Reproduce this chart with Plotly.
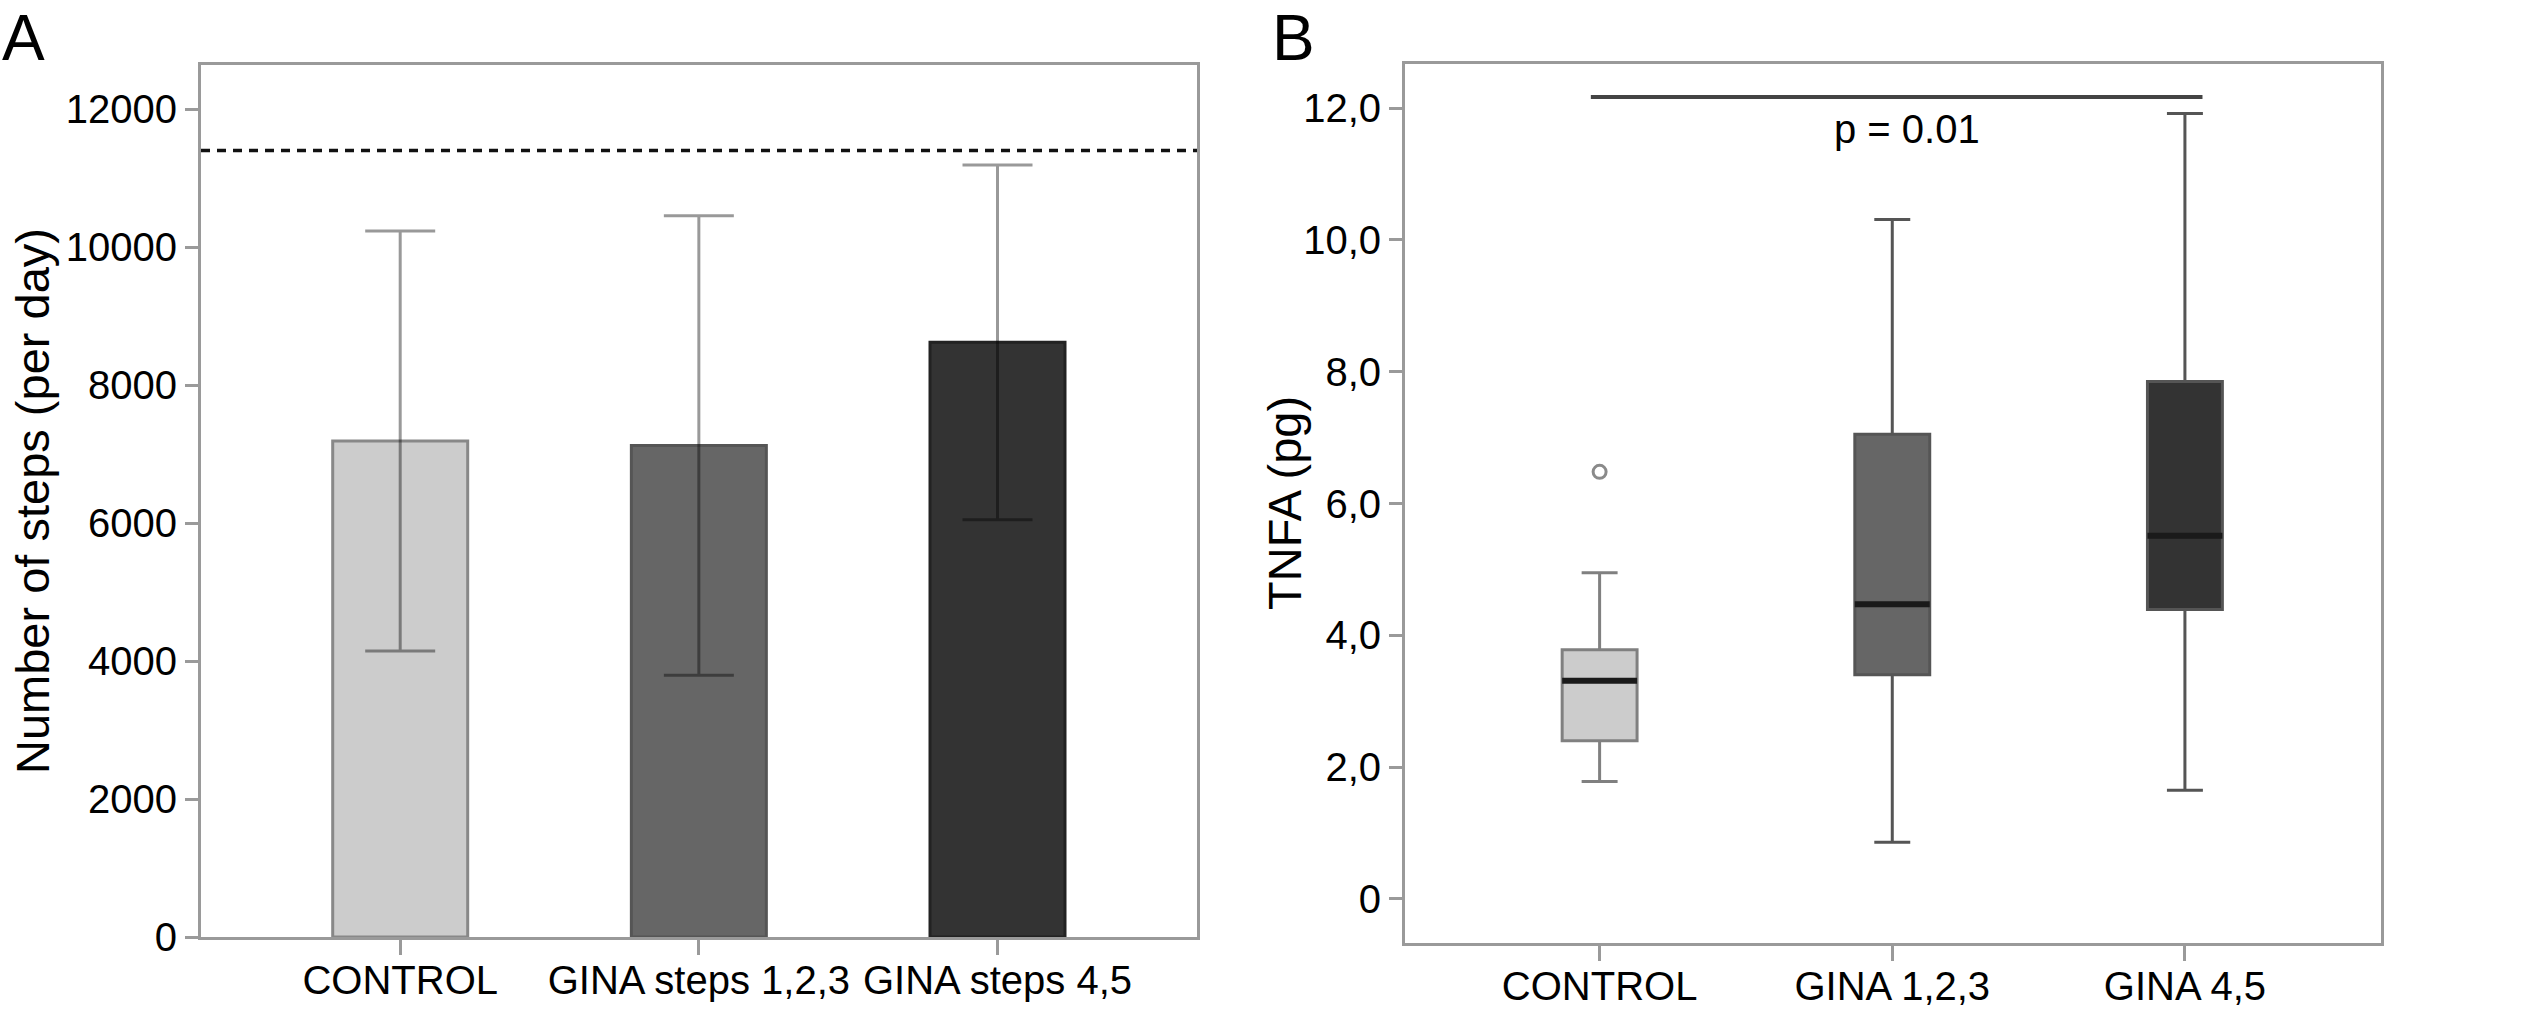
import plotly.graph_objects as go

# Panel A: number of steps per day (mean +/- SD)
steps_groups = ["CONTROL", "GINA steps 1,2,3", "GINA steps 4,5"]
steps_mean = [7190, 7125, 8620]
steps_sd = [3045, 3330, 2570]
steps_reference = 11400
steps_ticks = [0, 2000, 4000, 6000, 8000, 10000, 12000]

# Panel B: TNFA (pg) box plots
tnfa_groups = ["CONTROL", "GINA 1,2,3", "GINA 4,5"]
tnfa_low = [1.78, 0.86, 1.65]
tnfa_q1 = [2.40, 3.40, 4.39]
tnfa_median = [3.31, 4.47, 5.51]
tnfa_q3 = [3.78, 7.05, 7.85]
tnfa_high = [4.95, 10.31, 11.92]
tnfa_outlier_group = ["CONTROL"]
tnfa_outlier = [6.48]
tnfa_ticks = [0, 2, 4, 6, 8, 10, 12]
tnfa_ticktext = ["0", "2,0", "4,0", "6,0", "8,0", "10,0", "12,0"]
p_label = "p = 0.01"
p_line_y = 12.17
p_text_y = 11.68

# styling
W, H = 2536, 1010
FONT = "Liberation Sans, Arial, Helvetica, sans-serif"
FRAME = "#9a9a9a"
bar_fill = ["#cccccc", "#666666", "#333333"]
bar_edge = ["#888888", "#555555", "#222222"]
box_fill = ["#cccccc", "#666666", "#333333"]
box_edge = ["#808080", "#555555", "#555555"]
BOX_W = 0.256

fig = go.Figure()

fig.add_trace(go.Bar(
    x=steps_groups, y=steps_mean,
    width=0.452,
    marker=dict(color=bar_fill, line=dict(color=bar_edge, width=3)),
    error_y=dict(type="data", array=steps_sd, visible=True,
                 color="rgba(0,0,0,0.4)", thickness=3, width=35),
    xaxis="x", yaxis="y", showlegend=False,
))

for i, g in enumerate(tnfa_groups):
    fig.add_trace(go.Box(
        x=[g], q1=[tnfa_q1[i]], median=[tnfa_median[i]], q3=[tnfa_q3[i]],
        lowerfence=[tnfa_low[i]], upperfence=[tnfa_high[i]],
        fillcolor=box_fill[i], line=dict(color=box_edge[i], width=3),
        width=BOX_W, whiskerwidth=0.48, boxpoints=False,
        xaxis="x2", yaxis="y2", showlegend=False,
    ))
    # SPSS draws the median darker than the box outline
    fig.add_shape(type="line", xref="x2", yref="y2",
                  x0=i - BOX_W / 2, x1=i + BOX_W / 2,
                  y0=tnfa_median[i], y1=tnfa_median[i],
                  line=dict(color="#1a1a1a", width=6))

fig.add_trace(go.Scatter(
    x=tnfa_outlier_group, y=tnfa_outlier, mode="markers",
    marker=dict(symbol="circle-open", size=13, color="#8a8a8a", line=dict(width=3)),
    xaxis="x2", yaxis="y2", showlegend=False,
))

# reference line and significance bar
fig.add_shape(type="line", xref="x domain", yref="y", x0=0, x1=1,
              y0=steps_reference, y1=steps_reference,
              line=dict(color="#111111", width=3.5, dash="9px,7px"))
fig.add_shape(type="line", xref="x2", yref="y2", x0=-0.03, x1=2.06,
              y0=p_line_y, y1=p_line_y, line=dict(color="#444444", width=4))

axis_common = dict(
    showline=True, mirror=True, linecolor=FRAME, linewidth=3,
    ticks="outside", tickcolor=FRAME, tickwidth=3,
    showgrid=False, zeroline=False, automargin=False,
    tickfont=dict(family=FONT, size=40, color="black"),
)

fig.update_layout(
    width=W, height=H,
    margin=dict(l=0, r=0, t=0, b=0),
    paper_bgcolor="white", plot_bgcolor="white",
    font=dict(family=FONT, color="black"),
    xaxis=dict(domain=[201 / W, 1197 / W], anchor="y", range=[-0.667, 2.668],
               ticklen=15, ticklabelstandoff=-9, **axis_common),
    yaxis=dict(domain=[1 - 937 / H, 1 - 65 / H], anchor="x", range=[0, 12640],
               tickvals=steps_ticks, ticktext=[str(v) for v in steps_ticks],
               ticklen=13, **axis_common),
    xaxis2=dict(domain=[1405 / W, 2381 / W], anchor="y2", range=[-0.665, 2.67],
                ticklen=15, ticklabelstandoff=-9, **axis_common),
    yaxis2=dict(domain=[1 - 943 / H, 1 - 64 / H], anchor="x2", range=[-0.67, 12.67],
                tickvals=tnfa_ticks, ticktext=tnfa_ticktext,
                ticklen=13, **axis_common),
    annotations=[
        dict(text="A", x=0, y=1.0, xref="paper", yref="paper",
             xanchor="left", yanchor="top", showarrow=False,
             font=dict(family=FONT, size=64)),
        dict(text="B", x=1270 / W, y=1.0, xref="paper", yref="paper",
             xanchor="left", yanchor="top", showarrow=False,
             font=dict(family=FONT, size=64)),
        dict(text="Number of steps (per day)", x=32 / W, y=1 - 501 / H,
             xref="paper", yref="paper", textangle=-90,
             xanchor="center", yanchor="middle", showarrow=False,
             font=dict(family=FONT, size=47)),
        dict(text="TNFA (pg)", x=1284 / W, y=1 - 503 / H,
             xref="paper", yref="paper", textangle=-90,
             xanchor="center", yanchor="middle", showarrow=False,
             font=dict(family=FONT, size=47)),
        dict(text=p_label, x=1.05, y=p_text_y, xref="x2", yref="y2",
             xanchor="center", yanchor="middle", showarrow=False,
             font=dict(family=FONT, size=40)),
    ],
)

fig.write_html("out.html", config={"displayModeBar": False},
               post_script="document.body.style.margin='0';")
